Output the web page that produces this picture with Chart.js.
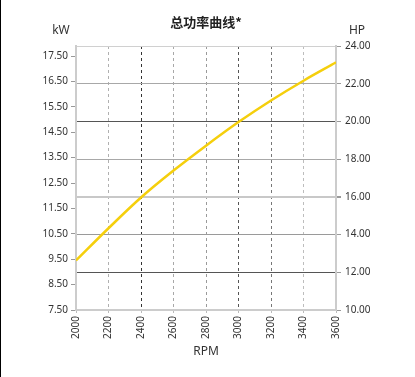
<!DOCTYPE html>
<html>
<head>
<meta charset="utf-8">
<script src="https://cdn.jsdelivr.net/npm/chart.js@4.4.1/dist/chart.umd.min.js"></script>
<style>
html,body{margin:0;padding:0;background:#fff;}
body{width:415px;height:377px;overflow:hidden;position:relative;}
#bar{position:absolute;left:0;top:0;width:1px;height:377px;background:#000;}
canvas{position:absolute;left:0;top:0;}
</style>
</head>
<body>
<div id="bar"></div>
<canvas id="c" width="415" height="377"></canvas>
<script>
const titleText = '总功率曲线*';
const leftUnit = 'kW';
const rightUnit = 'HP';
const xTitle = 'RPM';
const rpm = [2000, 2200, 2400, 2600, 2800, 3000, 3200, 3400, 3600];
const kw = [9.45, 10.72, 11.93, 12.99, 13.97, 14.90, 15.75, 16.53, 17.25];
const kwTicks = [7.5, 8.5, 9.5, 10.5, 11.5, 12.5, 13.5, 14.5, 15.5, 16.5, 17.5];
const hpTicks = [10, 12, 14, 16, 18, 20, 22, 24];
const HP_TO_KW = 0.7457;

const FONT = '"Noto Sans", "DejaVu Sans", sans-serif';

const xGridColor = {2200:'#b0b0b0',2400:'#333333',2600:'#a8a8a8',2800:'#9a9a9a',3000:'#555555',3200:'#777777',3400:'#bdbdbd'};
const yGridColor = {12:'#555555',14:'#9a9a9a',16:'#c8c8c8',18:'#a8a8a8',20:'#555555',22:'#a8a8a8',24:'#d0d0d0'};

const textPlugin = {
  id: 'texts',
  afterDraw(chart) {
    const ctx = chart.ctx;
    const a = chart.chartArea;
    ctx.save();
    ctx.fillStyle = '#222';
    ctx.textAlign = 'center';
    ctx.textBaseline = 'middle';
    ctx.font = 'bold 13px "Noto Sans CJK SC", sans-serif';
    ctx.fillText(titleText, (a.left + a.right) / 2, 22);
    ctx.font = '12px ' + FONT;
    ctx.fillStyle = '#333';
    ctx.fillText(leftUnit, 61, 31);
    ctx.fillText(rightUnit, 357, 31);
    ctx.fillText(xTitle, (a.left + a.right) / 2, 352);
    ctx.restore();
  }
};

new Chart(document.getElementById('c'), {
  type: 'line',
  data: {
    datasets: [{
      data: rpm.map((r, i) => ({x: r, y: kw[i]})),
      borderColor: '#f5cf0c',
      borderWidth: 2.5,
      pointRadius: 0,
      cubicInterpolationMode: 'monotone',
      fill: false,
      yAxisID: 'y'
    }]
  },
  options: {
    responsive: false,
    animation: false,
    devicePixelRatio: 1,
    layout: {padding: {top: 46, left: 0, right: 0, bottom: 0}},
    plugins: {legend: {display: false}, tooltip: {enabled: false}, title: {display: false}},
    scales: {
      x: {
        type: 'linear',
        min: 2000, max: 3600,
        afterBuildTicks: s => { s.ticks = rpm.map(v => ({value: v})); },
        afterFit: s => { s.height = 67; },
        grid: {
          color: c => xGridColor[c.tick && c.tick.value] || 'rgba(0,0,0,0)',
          tickColor: '#bbbbbb',
          tickLength: 3,
          lineWidth: 1
        },
        border: {color: '#cccccc', width: 2, dash: [3, 3]},
        ticks: {
          font: {family: FONT, size: 10},
          color: '#333',
          minRotation: 90, maxRotation: 90,
          padding: 3,
          callback: v => String(v)
        }
      },
      y: {
        position: 'left',
        min: 7.5, max: 24 * HP_TO_KW,
        afterBuildTicks: s => { s.ticks = kwTicks.map(v => ({value: v})); },
        afterFit: s => { s.width = 76; },
        border: {color: '#cccccc', width: 2},
        grid: {drawOnChartArea: false, tickLength: 5, tickColor: '#999999'},
        ticks: {font: {family: FONT, size: 10}, color: '#333', padding: 3, callback: v => v.toFixed(2)}
      },
      y2: {
        position: 'right',
        min: 10, max: 24,
        afterBuildTicks: s => { s.ticks = hpTicks.map(v => ({value: v})); },
        afterFit: s => { s.width = 79; },
        border: {color: '#cccccc', width: 2},
        grid: {
          color: c => yGridColor[c.tick && c.tick.value] || 'rgba(0,0,0,0)',
          lineWidth: c => (c.tick && c.tick.value === 16) ? 2 : 1,
          tickColor: '#999999',
          tickLength: 5
        },
        ticks: {font: {family: FONT, size: 10}, color: '#333', padding: 4, callback: v => v.toFixed(2)}
      }
    }
  },
  plugins: [textPlugin]
});
</script>
</body>
</html>
